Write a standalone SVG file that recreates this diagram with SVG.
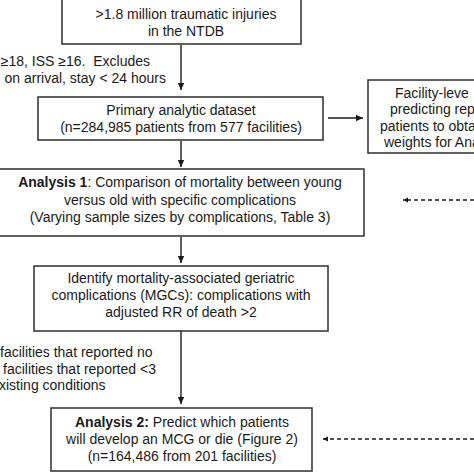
<svg xmlns="http://www.w3.org/2000/svg" width="474" height="474" viewBox="0 0 474 474">
<defs>
<style>
.box{fill:#fff;stroke:#3a3a3a;stroke-width:1.6}
.ln{stroke:#1a1a1a;stroke-width:1.4;fill:none}
.dash{stroke:#1a1a1a;stroke-width:1.4;fill:none;stroke-dasharray:4,3}
text{font-family:"Liberation Sans",Arial,sans-serif;font-size:14px;fill:#1a1a1a}
.c{text-anchor:middle}
.b{font-weight:bold}
</style>
<marker id="ah" markerWidth="8" markerHeight="8" refX="7" refY="4" orient="auto" markerUnits="userSpaceOnUse">
<path d="M0,0.8 L7,4 L0,7.2 Z" fill="#1a1a1a"/>
</marker>
<marker id="ahs" markerWidth="6" markerHeight="6" refX="5" refY="3" orient="auto" markerUnits="userSpaceOnUse">
<path d="M0,0.5 L5,3 L0,5.5 Z" fill="#1a1a1a"/>
</marker>
</defs>
<rect width="474" height="474" fill="#fff"/>
<g id="connectors">
<line class="ln" x1="181" y1="45" x2="181" y2="90" marker-end="url(#ah)"/>
<line class="ln" x1="328" y1="118" x2="363" y2="118" marker-end="url(#ah)"/>
<line class="ln" x1="181" y1="141" x2="181" y2="167" marker-end="url(#ah)"/>
<line class="dash" x1="474" y1="200" x2="403" y2="200" marker-end="url(#ahs)"/>
<line class="ln" x1="181" y1="237" x2="181" y2="263" marker-end="url(#ah)"/>
<line class="ln" x1="181" y1="331" x2="181" y2="404" marker-end="url(#ah)"/>
<line class="dash" x1="474" y1="439" x2="323" y2="439" marker-end="url(#ahs)"/>
<text x="150" y="66" text-anchor="end">≥18, ISS ≥16.&#160; Excludes</text>
<text x="166" y="83" text-anchor="end">on arrival, stay &lt; 24 hours</text>
<text x="0" y="357">facilities that reported no</text>
<text x="3" y="374">facilities that reported &lt;3</text>
<text x="-1" y="390">xisting conditions</text>
</g>
<g id="n1">
<rect class="box" x="62" y="-2" width="239" height="46"/>
<text class="c" x="186" y="19">&gt;1.8 million traumatic injuries</text>
<text class="c" x="186" y="36">in the NTDB</text>
</g>
<g id="n2">
<rect class="box" x="38" y="97" width="285" height="43"/>
<text class="c" x="181" y="115">Primary analytic dataset</text>
<text class="c" x="181" y="132">(n=284,985 patients from 577 facilities)</text>
</g>
<g id="n3">
<rect class="box" x="368" y="80" width="110" height="73"/>
<text x="395" y="98">Facility-leve</text>
<text x="390" y="114">predicting rep</text>
<text x="380" y="131">patients to obta</text>
<text x="384" y="147">weights for Ana</text>
</g>
<g id="n4">
<rect class="box" x="-2" y="169" width="366" height="67"/>
<text class="c" x="180" y="187"><tspan class="b">Analysis 1</tspan>: Comparison of mortality between young</text>
<text class="c" x="180" y="205">versus old with specific complications</text>
<text class="c" x="180" y="222">(Varying sample sizes by complications, Table 3)</text>
</g>
<g id="n5">
<rect class="box" x="34" y="266" width="294" height="65"/>
<text class="c" x="181" y="283">Identify mortality-associated geriatric</text>
<text class="c" x="181" y="300">complications (MGCs): complications with</text>
<text class="c" x="181" y="317">adjusted RR of death &gt;2</text>
</g>
<g id="n6">
<rect class="box" x="51" y="408" width="261" height="63"/>
<text class="c" x="182" y="427"><tspan class="b">Analysis 2:</tspan> Predict which patients</text>
<text class="c" x="182" y="444">will develop an MCG or die (Figure 2)</text>
<text class="c" x="182" y="461">(n=164,486 from 201 facilities)</text>
</g>
</svg>
